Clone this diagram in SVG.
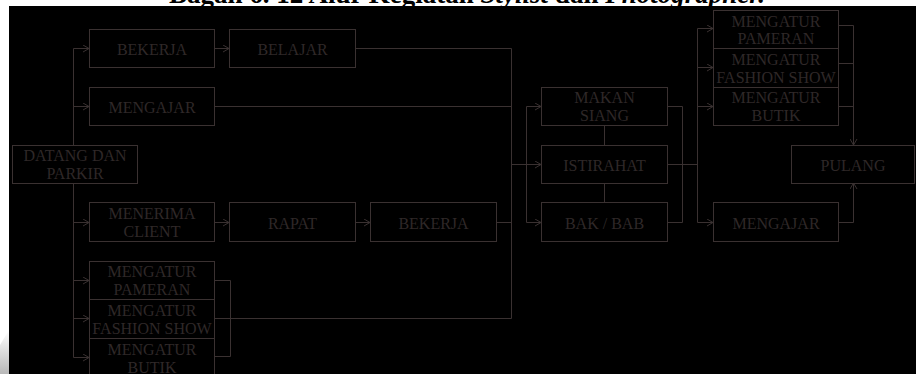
<svg xmlns="http://www.w3.org/2000/svg" width="916" height="374" viewBox="0 0 916 374">
  <defs>
    <marker id="arr" viewBox="0 0 8 8" refX="7.5" refY="4" markerWidth="8" markerHeight="8" markerUnits="userSpaceOnUse" orient="auto">
      <path d="M1.5,0.5 L7.5,4 L1.5,7.5" fill="none" stroke="#3a3131" stroke-width="1"/>
    </marker>
    <linearGradient id="shade" x1="0" y1="0" x2="0" y2="1">
      <stop offset="0" stop-color="#ffffff"/>
      <stop offset="1" stop-color="#b8b8b8"/>
    </linearGradient>
    <style>
      .box { fill: #000000; stroke: #3a3131; stroke-width: 1; }
      .lbl { font-family: "Liberation Serif", "Times New Roman", serif; font-size: 16px; fill: #2f2828; text-anchor: middle; }
      .ln { fill: none; stroke: #3a3131; stroke-width: 1; }
      .ttl { font-family: "Liberation Serif", "Times New Roman", serif; font-size: 27px; font-weight: bold; fill: #000000; text-anchor: middle; }
    </style>
  </defs>

  <rect x="0" y="0" width="916" height="374" fill="#ffffff"/>
  <path d="M0,345 L9,330 L9,374 L0,374 Z" fill="url(#shade)"/>
  <text class="ttl" x="467" y="2.5">Bagan 6. 12 Alur Kegiatan <tspan font-style="italic">Stylist</tspan> dan <tspan font-style="italic">Photographer.</tspan></text>
  <rect x="9" y="6" width="907" height="368" fill="#000000"/>

  <g id="connectors">
    <path class="ln" d="M73.5,145 V48.5 H89" marker-end="url(#arr)"/>
    <path class="ln" d="M73.5,106.5 H89" marker-end="url(#arr)"/>
    <path class="ln" d="M73.5,183 V357.5 H89" marker-end="url(#arr)"/>
    <path class="ln" d="M73.5,222.5 H89" marker-end="url(#arr)"/>
    <path class="ln" d="M73.5,280.5 H89" marker-end="url(#arr)"/>
    <path class="ln" d="M73.5,318.5 H89" marker-end="url(#arr)"/>
    <path class="ln" d="M214,48.5 H229" marker-end="url(#arr)"/>
    <path class="ln" d="M355,48.5 H511.5 V318.5"/>
    <path class="ln" d="M214,106.5 H511.5"/>
    <path class="ln" d="M214,222.5 H229" marker-end="url(#arr)"/>
    <path class="ln" d="M355,222.5 H370" marker-end="url(#arr)"/>
    <path class="ln" d="M496,222.5 H511.5"/>
    <path class="ln" d="M214,280.5 H230.5 V356.5 H214"/>
    <path class="ln" d="M214,318.5 H511.5"/>
    <path class="ln" d="M511.5,164.5 H541" marker-end="url(#arr)"/>
    <path class="ln" d="M526.5,222.5 V106.5 H541" marker-end="url(#arr)"/>
    <path class="ln" d="M526.5,222.5 H541" marker-end="url(#arr)"/>
    <path class="ln" d="M604.5,125 V145"/>
    <path class="ln" d="M604.5,183 V202"/>
    <path class="ln" d="M667,106.5 H682.5 V222.5 H667"/>
    <path class="ln" d="M667,164.5 H697.5"/>
    <path class="ln" d="M697.5,28.5 V222.5"/>
    <path class="ln" d="M697.5,28.5 H713" marker-end="url(#arr)"/>
    <path class="ln" d="M697.5,67.5 H713" marker-end="url(#arr)"/>
    <path class="ln" d="M697.5,106.5 H713" marker-end="url(#arr)"/>
    <path class="ln" d="M697.5,222.5 H713" marker-end="url(#arr)"/>
    <path class="ln" d="M838,25.5 H853.5"/>
    <path class="ln" d="M838,63.5 H853.5"/>
    <path class="ln" d="M838,106.5 H853.5"/>
    <path class="ln" d="M853.5,25.5 V145" marker-end="url(#arr)"/>
    <path class="ln" d="M838,222.5 H853.5 V183" marker-end="url(#arr)"/>
  </g>

  <g id="datang">
    <rect class="box" x="12.5" y="145.5" width="125" height="38"/>
    <text class="lbl" x="75" y="161">DATANG DAN</text>
    <text class="lbl" x="75" y="179">PARKIR</text>
  </g>
  <g id="bekerja1">
    <rect class="box" x="89.5" y="29.5" width="125" height="38"/>
    <text class="lbl" x="152" y="55">BEKERJA</text>
  </g>
  <g id="belajar">
    <rect class="box" x="229.5" y="29.5" width="126" height="38"/>
    <text class="lbl" x="292.5" y="55">BELAJAR</text>
  </g>
  <g id="mengajar1">
    <rect class="box" x="89.5" y="87.5" width="125" height="38"/>
    <text class="lbl" x="152" y="113">MENGAJAR</text>
  </g>
  <g id="menerima">
    <rect class="box" x="89.5" y="202.5" width="125" height="39"/>
    <text class="lbl" x="152" y="219">MENERIMA</text>
    <text class="lbl" x="152" y="237">CLIENT</text>
  </g>
  <g id="rapat">
    <rect class="box" x="229.5" y="202.5" width="126" height="39"/>
    <text class="lbl" x="292.5" y="229">RAPAT</text>
  </g>
  <g id="bekerja2">
    <rect class="box" x="370.5" y="202.5" width="126" height="39"/>
    <text class="lbl" x="433.5" y="229">BEKERJA</text>
  </g>
  <g id="pameran-l">
    <rect class="box" x="89.5" y="261.5" width="125" height="38"/>
    <text class="lbl" x="152" y="277">MENGATUR</text>
    <text class="lbl" x="152" y="295">PAMERAN</text>
  </g>
  <g id="fashion-l">
    <rect class="box" x="89.5" y="299.5" width="125" height="39"/>
    <text class="lbl" x="152" y="316">MENGATUR</text>
    <text class="lbl" x="152" y="333.5">FASHION SHOW</text>
  </g>
  <g id="butik-l">
    <rect class="box" x="89.5" y="338.5" width="125" height="39"/>
    <text class="lbl" x="152" y="355">MENGATUR</text>
    <text class="lbl" x="152" y="373">BUTIK</text>
  </g>
  <g id="makan">
    <rect class="box" x="541.5" y="87.5" width="126" height="38"/>
    <text class="lbl" x="604.5" y="103">MAKAN</text>
    <text class="lbl" x="604.5" y="121">SIANG</text>
  </g>
  <g id="istirahat">
    <rect class="box" x="541.5" y="145.5" width="126" height="38"/>
    <text class="lbl" x="604.5" y="171">ISTIRAHAT</text>
  </g>
  <g id="bakbab">
    <rect class="box" x="541.5" y="202.5" width="126" height="39"/>
    <text class="lbl" x="604.5" y="229">BAK / BAB</text>
  </g>
  <g id="pameran-r">
    <rect class="box" x="713.5" y="10.5" width="125" height="38"/>
    <text class="lbl" x="776" y="27">MENGATUR</text>
    <text class="lbl" x="776" y="44">PAMERAN</text>
  </g>
  <g id="fashion-r">
    <rect class="box" x="713.5" y="48.5" width="125" height="39"/>
    <text class="lbl" x="776" y="65">MENGATUR</text>
    <text class="lbl" x="776" y="83">FASHION SHOW</text>
  </g>
  <g id="butik-r">
    <rect class="box" x="713.5" y="87.5" width="125" height="38"/>
    <text class="lbl" x="776" y="103">MENGATUR</text>
    <text class="lbl" x="776" y="121">BUTIK</text>
  </g>
  <g id="pulang">
    <rect class="box" x="791.5" y="145.5" width="123" height="38"/>
    <text class="lbl" x="853" y="171">PULANG</text>
  </g>
  <g id="mengajar2">
    <rect class="box" x="713.5" y="202.5" width="125" height="39"/>
    <text class="lbl" x="776" y="229">MENGAJAR</text>
  </g>
</svg>
